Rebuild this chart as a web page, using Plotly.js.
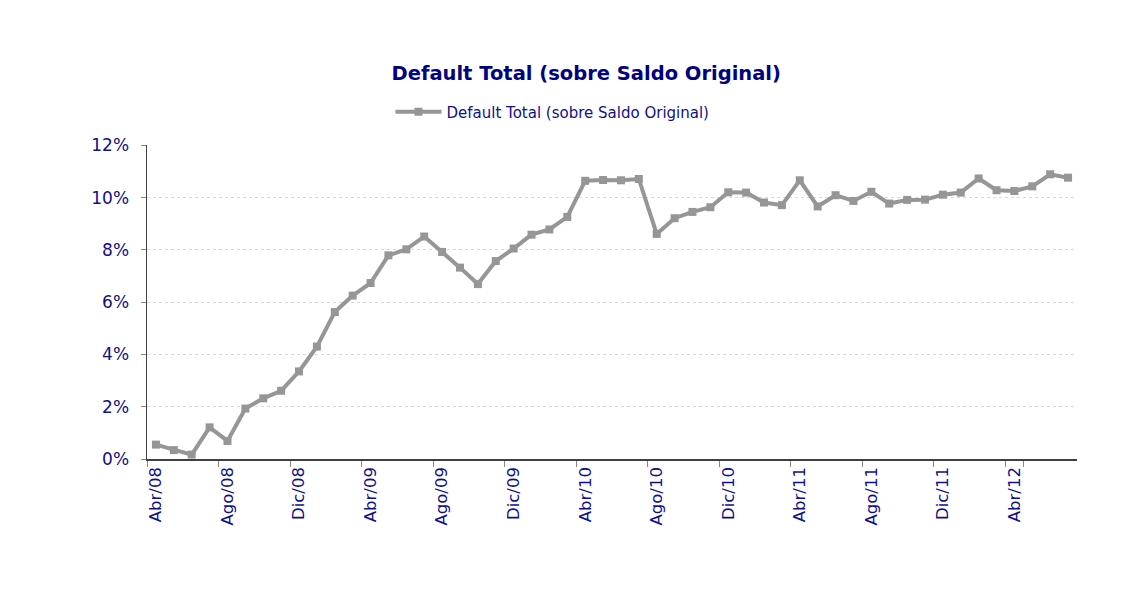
<!DOCTYPE html>
<html>
<head>
<meta charset="utf-8">
<script src="https://cdn.plot.ly/plotly-3.0.1.min.js"></script>
<style>html,body{margin:0;padding:0;background:#fff;}#chart{width:1145px;height:601px;}</style>
</head>
<body>
<div id="chart"></div>
<script>
var months = ["Abr/08","May/08","Jun/08","Jul/08","Ago/08","Sep/08","Oct/08","Nov/08","Dic/08",
  "Ene/09","Feb/09","Mar/09","Abr/09","May/09","Jun/09","Jul/09","Ago/09","Sep/09","Oct/09","Nov/09","Dic/09",
  "Ene/10","Feb/10","Mar/10","Abr/10","May/10","Jun/10","Jul/10","Ago/10","Sep/10","Oct/10","Nov/10","Dic/10",
  "Ene/11","Feb/11","Mar/11","Abr/11","May/11","Jun/11","Jul/11","Ago/11","Sep/11","Oct/11","Nov/11","Dic/11",
  "Ene/12","Feb/12","Mar/12","Abr/12","May/12","Jun/12","Jul/12"];
var defaultTotal = [0.55,0.34,0.17,1.21,0.69,1.93,2.32,2.61,3.35,
  4.30,5.62,6.25,6.73,7.79,8.02,8.51,7.92,7.32,6.69,7.57,8.05,
  8.58,8.78,9.26,10.64,10.67,10.66,10.71,8.61,9.21,9.45,9.63,10.20,
  10.19,9.81,9.71,10.66,9.66,10.09,9.87,10.22,9.77,9.91,9.92,10.11,
  10.19,10.73,10.28,10.25,10.43,10.89,10.76].map(function(v){return v/100;});
var tickLabels = ["Abr/08","Ago/08","Dic/08","Abr/09","Ago/09","Dic/09","Abr/10","Ago/10","Dic/10","Abr/11","Ago/11","Dic/11","Abr/12"];
var seriesName = "Default Total (sobre Saldo Original)";

var navy = "#10108a";
var trace = {
  x: months, y: defaultTotal, type: "scatter", mode: "lines+markers", name: seriesName,
  line: {color: "#969696", width: 4},
  marker: {symbol: "square", size: 8, color: "#969696"}
};
var layout = {
  width: 1145, height: 601,
  margin: {l: 147, r: 68, t: 145, b: 142},
  paper_bgcolor: "#fff", plot_bgcolor: "#fff",
  showlegend: true,
  title: {text: "<b>" + seriesName + "</b>", x: 0.512, xanchor: "center", y: 0.878, yanchor: "middle",
    font: {family: "DejaVu Sans, Verdana, sans-serif", size: 19.5, color: "#000080"}},
  legend: {orientation: "h", x: 0.436, xanchor: "center", y: 1.105, yanchor: "middle", itemwidth: 46,
    font: {family: "DejaVu Sans, Verdana, sans-serif", size: 15, color: navy}, bgcolor: "rgba(0,0,0,0)"},
  xaxis: {
    type: "category", range: [-0.5, 51.5], tickmode: "array", tickvals: tickLabels, ticktext: tickLabels,
    tickson: "boundaries", ticks: "outside", ticklen: 6, tickcolor: "#888", tickangle: -90,
    tickfont: {family: "DejaVu Sans, Verdana, sans-serif", size: 16.5, color: navy},
    showline: true, linecolor: "#404040", linewidth: 1.5, showgrid: false, zeroline: false, fixedrange: true
  },
  yaxis: {
    range: [0, 0.1201], dtick: 0.02, tickformat: ".0%", ticks: "outside", ticklen: 5, tickcolor: "#888",
    ticklabelstandoff: 8,
    tickfont: {family: "DejaVu Sans, Verdana, sans-serif", size: 17, color: navy},
    showline: true, linecolor: "#404040", linewidth: 1.5,
    showgrid: true, gridcolor: "#d9d9d9", griddash: "dot", gridwidth: 1, zeroline: false, fixedrange: true
  }
};
Plotly.newPlot("chart", [trace], layout, {staticPlot: true, displayModeBar: false});
</script>
</body>
</html>
